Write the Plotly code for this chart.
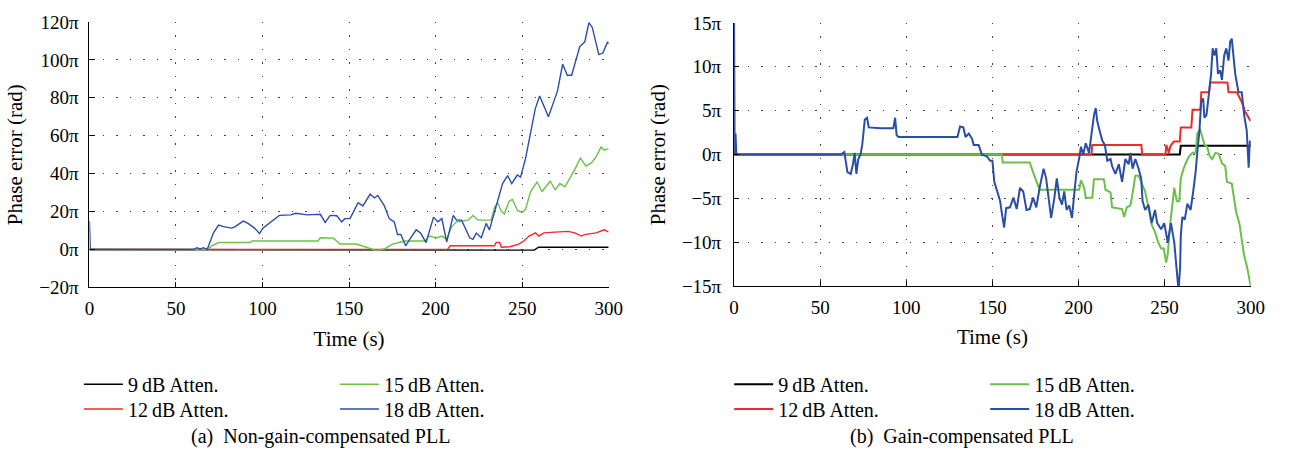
import numpy as np
import plotly.graph_objects as go

W, H = 1292, 462
FONT = "Liberation Serif, Times New Roman, serif"

# ---------------- (a) Non-gain-compensated PLL (phase error in units of pi) ----------------
t_a_9 = [0, 209, 211, 235, 257, 259.5, 275, 300]
v_a_9 = [0, 0, -0.3, -0.2, -0.3, 1.2, 1.1, 1.2]

t_a_12 = [0, 100, 207, 208.5, 234, 235, 237, 238, 243, 248,
          251, 254, 257.7, 259.6, 262.5, 268.9, 276.6, 280.4, 284.2, 286.1,
          292.7, 297.5, 300]
v_a_12 = [0, 0, 0.2, 2.0, 2.0, 3.7, 3.7, 1.2, 1.5, 2.9,
          4.5, 7.1, 8.8, 7.1, 8.8, 9.2, 9.6, 8.8, 7.1, 7.9,
          8.8, 10.4, 9.2]

t_a_15 = [0, 68, 70.8, 74.6, 93, 94, 132, 133.4, 141, 144.8,
          154.2, 159.9, 165.6, 170.4, 175.1, 178.9, 182.7, 190.3, 194.1, 196,
          200.7, 203.6, 206.4, 209.3, 212.1, 218.8, 221.6, 224.5, 228.3, 232.1,
          234, 235.9, 237.8, 239.7, 242.5, 244.4, 247.3, 250.1, 252, 254.9,
          258.6, 261.5, 266.2, 269.1, 271.8, 274.7, 279.5, 283.7, 286.8, 290,
          292.8, 295.6, 297.5, 300]
v_a_15 = [0, 0, 2.0, 3.7, 3.7, 4.5, 4.5, 6.2, 6.0, 2.9,
          2.9, 1.2, -0.5, 0.3, 2.9, 3.7, 4.5, 4.5, 4.5, 7.1,
          6.2, 7.1, 5.4, 12.1, 14.6, 15.5, 18.0, 15.5, 15.5, 15.5,
          22.2, 24.7, 20.5, 18.8, 25.5, 26.4, 20.5, 19.6, 21.3, 30.6,
          35.6, 30.6, 36.0, 31.5, 34.8, 33.1, 40.7, 48.2, 44.0, 45.7,
          49.0, 54.1, 52.4, 53.2]

t_a_18 = [0, 0.5, 60, 62, 64, 66, 68, 71.7, 74.6, 77.5,
          82.1, 84, 88.8, 91.6, 95.4, 98.3, 100.2, 104.9, 109.7, 116.3,
          119.2, 125.8, 133.4, 136.2, 139.1, 142.9, 145.7, 147.6, 150.5, 152.4,
          155.2, 158, 162.2, 164.7, 166.6, 170.4, 173.2, 176.1, 178, 179.9,
          182.7, 185.6, 188.8, 191.3, 194.5, 198.8, 201.3, 203.6, 206.4, 210.2,
          212.1, 215, 219.7, 221.6, 223.5, 226.4, 229.2, 231.1, 233, 235.9,
          238.7, 241.6, 244, 247.2, 249.1, 252, 254.8, 257.6, 260.1, 262.3,
          265.2, 268.1, 270.4, 273.4, 276.1, 278.6, 283.3, 286.2, 288.6, 290.5,
          294.3, 296.6, 299.4, 300]
v_a_18 = [15, 0, 0, 1.0, 0.3, 1.0, 0, 8.8, 12.9, 12.1,
          11.3, 12.0, 15.0, 13.8, 11.3, 8.4, 11.3, 14.6, 18.0, 18.3,
          19.1, 18.3, 18.6, 14.3, 18.0, 17.8, 14.6, 16.3, 16.3, 19.6,
          24.7, 23.0, 29.2, 27.2, 28.5, 23.0, 16.3, 14.6, 7.9, 7.9,
          2.0, 6.2, 10.4, 8.7, 3.7, 17.1, 14.6, 16.3, 4.0, 18.0,
          15.5, 15.5, 6.2, 5.4, 8.7, 6.2, 13.8, 10.4, 16.3, 25.5,
          34.8, 39.0, 34.8, 39.3, 38.2, 48.2, 60.8, 74.3, 81.0, 75.9,
          70.0, 77.6, 83.5, 97.7, 91.9, 91.9, 107.0, 109.5, 119.6, 117.1,
          102.8, 103.6, 109.5, 108.5]

# ---------------- (b) Gain-compensated PLL (phase error in units of pi) ----------------
t_b_9 = [0, 258.8, 259.4, 300]
v_b_9 = [0, 0, 1.0, 1.0]

t_b_12 = [0, 207.5, 208, 236.5, 237, 250.5, 251, 252.5, 253.2, 255.3,
          258.8, 259.4, 265.5, 266.2, 270.8, 271.3, 275.8, 276.5, 286.5, 287.1,
          291.9, 294.8, 296.7, 298.6, 300]
v_b_12 = [0, 0, 1.1, 1.1, 0, 0, 1.1, 0.2, 0.9, 1.5,
          1.5, 3.1, 3.1, 5.1, 5.1, 7.1, 7.1, 8.2, 8.2, 7.1,
          7.1, 6.0, 4.9, 4.2, 3.8]

t_b_15 = [0, 155.5, 156, 171.7, 173.6, 175.5, 177.4, 200.4, 201.4, 203.3,
          204.2, 208, 209, 214.7, 215.7, 218.6, 219.5, 225.3, 226.5, 228.1,
          230.1, 231, 233, 234.9, 236.8, 238.7, 240.6, 242.5, 244.4, 246.3,
          248, 249.5, 250.9, 251.8, 253.3, 254.7, 255.6, 257.1, 258.5, 259.4,
          261, 262.9, 264.2, 266.2, 268, 269, 270.5, 271.9, 273.2, 274.7,
          276.2, 277.6, 279.5, 281.4, 283.3, 285.2, 286.2, 289, 290, 291.5,
          293.4, 294.8, 296.1, 298, 299.5, 300]
v_b_15 = [0, 0, -0.9, -0.9, -2.0, -2.9, -4.0, -4.0, -2.9, -3.8,
          -4.9, -4.9, -2.8, -2.8, -4.0, -4.3, -6.0, -6.2, -7.1, -6.0,
          -5.8, -4.9, -2.4, -2.4, -3.4, -4.2, -6.0, -8.0, -8.8, -10.0,
          -10.7, -10.7, -12.3, -11.4, -7.8, -4.9, -3.8, -5.3, -5.3, -2.7,
          -1.6, -0.7, -0.2, 0.2, 0.2, 2.4, 2.9, 2.0, 1.1, 0.9,
          -0.2, -0.5, 0.2, 0.1, -1.0, -1.3, -3.1, -3.3, -4.5, -6.5,
          -7.8, -9.6, -11.4, -12.9, -14.8, -15.0]

t_b_18 = [0, 0.3, 0.8, 1.3, 62, 64, 65.8, 67.7, 69, 70,
          71, 72.1, 73.4, 74.4, 75.9, 77.2, 78.2, 85, 92.5, 93.5,
          94.4, 95.5, 129.7, 131.2, 133.1, 134.4, 136.3, 138.2, 139.1, 142,
          143.9, 146.8, 148.7, 150, 151.1, 152.6, 154.5, 155.5, 156.8, 158,
          160.2, 162.2, 164.1, 166, 167.9, 169.8, 171.7, 173.6, 175.5, 177.4,
          179.7, 181.2, 182.2, 184.1, 186, 187.4, 188.9, 190.4, 191.7, 193.1,
          194.6, 196.2, 197.5, 198.8, 200.4, 201.4, 202.7, 204.2, 206.1, 207.7,
          209, 210, 210.9, 212.3, 213.8, 215.3, 216.7, 218.6, 219.5, 221.4,
          223.4, 225.3, 227.2, 229.1, 230.1, 231.4, 233, 234.9, 236.4, 237.2,
          238.7, 240.6, 242.5, 244.4, 245.7, 248, 249.8, 251.8, 253.7, 255.6,
          257.1, 258.1, 259, 259.4, 260.3, 261.7, 263.2, 265.1, 266.6, 268,
          269.3, 270.3, 271.2, 272.4, 273.1, 274.3, 275.6, 277, 277.9, 278.9,
          280, 281, 282.3, 283.3, 284.6, 285.8, 287.1, 288.1, 289, 290,
          291, 292.9, 294.8, 296.2, 297.7, 298.3, 298.8, 299.6, 300]
v_b_18 = [15, 0, 2.4, 0, 0, 0.3, -2.0, -2.2, -1.1, 0.2,
          -2.2, -0.5, 0, 1.1, 4.0, 4.2, 3.1, 3.0, 3.0, 4.2,
          2.2, 2.0, 2.0, 3.2, 3.1, 2.0, 2.4, 1.8, 1.1, 1.1,
          0, -0.2, -0.7, -0.7, -3.1, -4.2, -5.3, -6.7, -8.3, -6.1,
          -6.0, -4.9, -6.2, -3.8, -4.2, -6.3, -6.2, -4.9, -6.0, -3.8,
          -1.6, -2.7, -4.2, -7.2, -4.9, -2.7, -4.9, -5.7, -4.2, -6.3,
          -5.8, -7.2, -4.5, -2.0, -0.4, 0.9, 0, 1.3, 0.2, 2.7,
          4.5, 5.3, 3.8, 2.7, 1.6, 1.1, -0.7, -0.5, -1.3, -2.2,
          -1.1, -3.1, -0.5, -1.1, 0.2, -1.6, -0.5, -1.6, -2.7, -5.3,
          -6.3, -5.7, -7.8, -6.3, -7.8, -8.5, -7.8, -10.0, -7.8, -10.0,
          -13.2, -15.5, -12.8, -9.2, -7.1, -7.4, -5.6, -6.3, -4.2, -2.0,
          0.9, 2.9, 6.0, 6.4, 4.2, 4.5, 6.7, 9.2, 12.1, 11.3,
          12.1, 9.2, 9.6, 8.5, 11.3, 12.1, 10.7, 12.9, 13.2, 10.7,
          9.2, 7.1, 7.1, 4.5, 2.7, 0.5, -1.5, 1.6, 0.9]

names = ["9\u2009dB Atten.", "12\u2009dB Atten.", "15\u2009dB Atten.", "18\u2009dB Atten."]
colors = ["#000000", "#ee2a2a", "#6cc04a", "#2b4ea5"]

x_ticks = [0, 50, 100, 150, 200, 250, 300]
ya_ticks = [-20, 0, 20, 40, 60, 80, 100, 120]
yb_ticks = [-15, -10, -5, 0, 5, 10, 15]


def pi_label(k):
    return ("\u2212" + str(-k) if k < 0 else str(k)) + "\u03c0"


fig = go.Figure()

panel_a = [(t_a_9, v_a_9), (t_a_12, v_a_12), (t_a_15, v_a_15), (t_a_18, v_a_18)]
panel_b = [(t_b_9, v_b_9), (t_b_12, v_b_12), (t_b_15, v_b_15), (t_b_18, v_b_18)]
# 9/15 dB share the first legend row, 12/18 dB the second
row_of = [0, 1, 0, 1]

for panel, (xa, ya, legs, lw) in zip(
        [panel_a, panel_b],
        [("x", "y", ["legend", "legend2"], 1.4), ("x2", "y2", ["legend3", "legend4"], 2.0)]):
    for i, (t, v) in enumerate(panel):
        assert len(t) == len(v)
        fig.add_trace(go.Scatter(
            x=t, y=np.array(v) * np.pi, mode="lines", name=names[i],
            line=dict(color=colors[i], width=lw),
            xaxis=xa, yaxis=ya, legend=legs[row_of[i]],
        ))

axis_common = dict(
    showline=True, linecolor="black", linewidth=1.2, mirror=False,
    ticks="inside", ticklen=5, tickwidth=1, tickcolor="black",
    showgrid=True, gridcolor="#444444", gridwidth=1, griddash="1.5px,12px",
    zeroline=False, tickfont=dict(family=FONT, size=19, color="black"),
)
x_common = dict(axis_common, range=[0, 300], tickvals=x_ticks, ticklabelstandoff=4,
                title=dict(text="Time (s)", font=dict(family=FONT, size=21), standoff=12))
y_title = dict(text="Phase error (rad)", font=dict(family=FONT, size=21), standoff=10)

fig.update_layout(
    width=W, height=H, autosize=False,
    margin=dict(l=0, r=0, t=0, b=0),
    paper_bgcolor="white", plot_bgcolor="white",
    font=dict(family=FONT, color="black"),
    showlegend=True,
    xaxis=dict(x_common, domain=[85.7 / W, 612.7 / W], anchor="y"),
    yaxis=dict(axis_common, domain=[(H - 290.7) / H, (H - 12.5) / H], anchor="x",
               range=[-20 * np.pi, 120 * np.pi], ticklabelstandoff=6,
               tickvals=[k * np.pi for k in ya_ticks], ticktext=[pi_label(k) for k in ya_ticks],
               title=y_title),
    xaxis2=dict(x_common, domain=[740 / W, 1264.3 / W], anchor="y2"),
    yaxis2=dict(axis_common, domain=[(H - 289.5) / H, (H - 13.5) / H], anchor="x2",
                range=[-15 * np.pi, 15 * np.pi], ticklabelstandoff=8,
                tickvals=[k * np.pi for k in yb_ticks], ticktext=[pi_label(k) for k in yb_ticks],
                title=y_title),
)

leg_common = dict(orientation="h", xanchor="left", yanchor="middle",
                  entrywidth=202, entrywidthmode="pixels", itemwidth=39,
                  bgcolor="rgba(0,0,0,0)", font=dict(family=FONT, size=20, color="black"),
                  traceorder="normal")
fig.update_layout(
    legend=dict(leg_common, x=75 / W, y=1 - 392 / H),
    legend2=dict(leg_common, x=75 / W, y=1 - 418 / H),
    legend3=dict(leg_common, x=735 / W, y=1 - 392 / H),
    legend4=dict(leg_common, x=735 / W, y=1 - 418 / H),
)

for cx, text in [(320, "(a)\u2002Non-gain-compensated PLL"), (971.5, "(b)\u2002Gain-compensated PLL")]:
    fig.add_annotation(x=cx / W, y=1 - 447 / H, xref="paper", yref="paper",
                       xanchor="center", yanchor="middle", showarrow=False,
                       text=text, font=dict(family=FONT, size=20, color="black"))

fig.write_html("out.html")
